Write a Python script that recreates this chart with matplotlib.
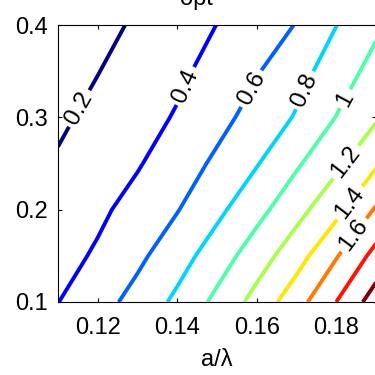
import numpy as np
import matplotlib
matplotlib.use("Agg")
import matplotlib.pyplot as plt

plt.rcParams['font.family'] = ['Liberation Sans', 'DejaVu Sans']

# grid of normalised lattice constant (a/lambda) and the second parameter
a_lambda = [0.11, 0.12, 0.13, 0.14, 0.15, 0.16, 0.17, 0.18, 0.19]
y_vals = [0.10, 0.15, 0.20, 0.25, 0.30, 0.35, 0.40]

# optimum value on the grid, one row per y value
z_010 = [0.397, 0.524, 0.668, 0.843, 1.049, 1.268, 1.521, 1.800, 2.099]
z_015 = [0.330, 0.425, 0.558, 0.715, 0.900, 1.104, 1.316, 1.585, 1.864]
z_020 = [0.275, 0.362, 0.469, 0.591, 0.754, 0.937, 1.133, 1.342, 1.621]
z_025 = [0.219, 0.302, 0.384, 0.503, 0.635, 0.788, 0.974, 1.156, 1.373]
z_030 = [0.167, 0.248, 0.329, 0.416, 0.539, 0.671, 0.817, 1.005, 1.175]
z_035 = [0.111, 0.195, 0.279, 0.362, 0.465, 0.585, 0.730, 0.894, 1.071]
z_040 = [0.052, 0.140, 0.227, 0.314, 0.402, 0.521, 0.606, 0.797, 0.962]

levels = [0.2, 0.4, 0.6, 0.8, 1.0, 1.2, 1.4, 1.6, 1.8, 2.0]

# where the inline labels sit (a/lambda, y)
label_pos = [(0.1168, 0.306), (0.1425, 0.333), (0.1591, 0.330), (0.1717, 0.330),
             (0.1827, 0.319), (0.1817, 0.254), (0.1835, 0.207), (0.1852, 0.170)]

Z = np.array([z_010, z_015, z_020, z_025, z_030, z_035, z_040])
X, Y = np.meshgrid(a_lambda, y_vals)

fig = plt.figure(figsize=(3.75, 3.75), dpi=100)
ax = fig.add_axes([58 / 375, 1 - 302 / 375, 318 / 375, 277 / 375])

cs = ax.contour(X, Y, Z, levels=levels, cmap='jet', linewidths=2.8)
ax.clabel(cs, levels=levels[:8], manual=label_pos, inline=True,
          fmt='%g', fontsize=17.5, colors='black', inline_spacing=4)

ax.set_xlim(0.11, 0.19)
ax.set_ylim(0.1, 0.4)
ax.set_xticks([0.12, 0.14, 0.16, 0.18])
ax.set_yticks([0.1, 0.2, 0.3, 0.4])
ax.tick_params(direction='in', length=3, width=0.8, top=True, right=True,
               labelsize=17)
ax.tick_params(axis='x', pad=11)
ax.tick_params(axis='y', pad=7)
for s in ax.spines.values():
    s.set_linewidth(0.8)

ax.set_xlabel(r'a/λ', fontsize=17, labelpad=7)
fig.text(196 / 375, 1 - 5 / 375, 'opt', ha='center', va='baseline', fontsize=17)

fig.savefig('out.png', dpi=100)
